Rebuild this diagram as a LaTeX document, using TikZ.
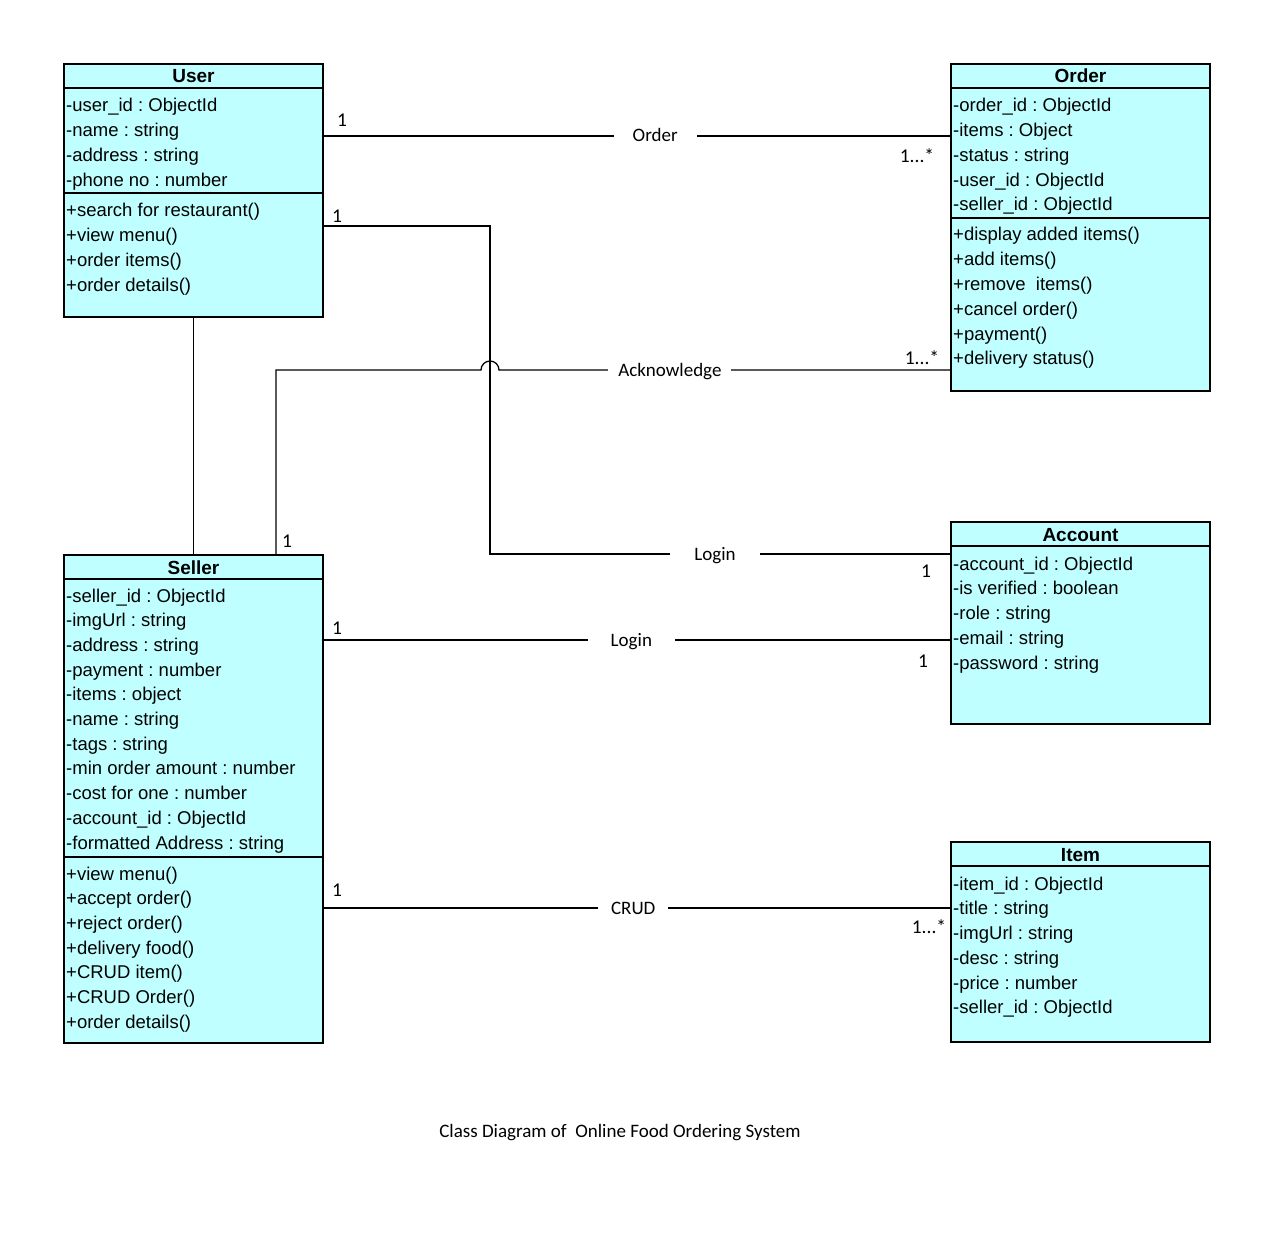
\documentclass[tikz,border=0pt]{standalone}
\usepackage{fontspec}
\setmainfont{Liberation Sans}
\newfontfamily\calibri{Carlito}
\frenchspacing
\usetikzlibrary{calc}
\definecolor{classcyan}{RGB}{192,255,255}
\tikzset{
  classbox/.style={draw, line width=1.3pt, fill=classcyan, minimum width=259pt, anchor=north west, inner sep=0pt, outer sep=0pt},
  classname/.style={anchor=base, font=\bfseries\fontsize{19}{21}\selectfont, inner sep=0pt},
  member/.style={anchor=base west, font=\fontsize{18.5}{20}\selectfont, inner sep=0pt},
  divider/.style={line width=1.3pt},
  link/.style={line width=1.3pt},
  assoc/.style={fill=white, font=\calibri\fontsize{19}{21}\selectfont, text height=12pt, text depth=0pt, inner ysep=2pt},
  mult/.style={font=\calibri\fontsize{19.5}{21}\selectfont, inner sep=0pt}
}

\begin{document}
\begin{tikzpicture}[x=1pt, y=-1pt]
    \fill[white] (0,0) rectangle (1274,1249);
    \useasboundingbox (0,0) rectangle (1274,1249);

    % classes
    \node[classbox, minimum height=253pt] (user) at (64,64) {};
    \node[classbox, minimum height=327pt] (order) at (951,64) {};
    \node[classbox, minimum height=488pt] (seller) at (64,555) {};
    \node[classbox, minimum height=202pt] (account) at (951,522) {};
    \node[classbox, minimum height=200pt] (item) at (951,842) {};

    \node[classname] (usert) at ([yshift=-19pt]user.north) {User};
    \node[classname] (ordert) at ([yshift=-19pt]order.north) {Order};
    \node[classname] (sellert) at ([yshift=-19pt]seller.north) {Seller};
    \node[classname] (accountt) at ([yshift=-19pt]account.north) {Account};
    \node[classname] (itemt) at ([yshift=-19pt]item.north) {Item};

    \draw[divider] ([yshift=-24pt]user.north west) -- ([yshift=-24pt]user.north east);
    \draw[divider] ([yshift=-129pt]user.north west) -- ([yshift=-129pt]user.north east);
    \draw[divider] ([yshift=-24pt]order.north west) -- ([yshift=-24pt]order.north east);
    \draw[divider] ([yshift=-154pt]order.north west) -- ([yshift=-154pt]order.north east);
    \draw[divider] ([yshift=-24pt]seller.north west) -- ([yshift=-24pt]seller.north east);
    \draw[divider] ([yshift=-302pt]seller.north west) -- ([yshift=-302pt]seller.north east);
    \draw[divider] ([yshift=-24pt]account.north west) -- ([yshift=-24pt]account.north east);
    \draw[divider] ([yshift=-24pt]item.north west) -- ([yshift=-24pt]item.north east);

    % members
    \foreach \t [count=\i] in {-user\_id : ObjectId, -name : string, -address : string, -phone no : number}
      \node[member] (usera\i) at ([shift={(2,{48+(\i-1)*24.75})}]user.north west) {\t};
    \foreach \t [count=\i] in {+search for restaurant(), +view menu(), +order items(), +order details()}
      \node[member] (userm\i) at ([shift={(2,{153+(\i-1)*24.75})}]user.north west) {\t};
    \foreach \t [count=\i] in {-order\_id : ObjectId, -items : Object, -status : string, -user\_id : ObjectId, -seller\_id : ObjectId}
      \node[member] (ordera\i) at ([shift={(2,{48+(\i-1)*24.75})}]order.north west) {\t};
    \foreach \t [count=\i] in {+display added items(), +add items(), +remove~ items(), +cancel order(), +payment(), +delivery status()}
      \node[member] (orderm\i) at ([shift={(2,{177+(\i-1)*24.75})}]order.north west) {\t};
    \foreach \t [count=\i] in {-seller\_id : ObjectId, -imgUrl : string, -address : string, -payment : number, -items : object, -name : string, -tags : string, -min order amount : number, -cost for one : number, -account\_id : ObjectId, -formatted Address : string}
      \node[member] (sellera\i) at ([shift={(2,{47+(\i-1)*24.7})}]seller.north west) {\t};
    \foreach \t [count=\i] in {+view menu(), +accept order(), +reject order(), +delivery food(), +CRUD item(), +CRUD Order(), +order details()}
      \node[member] (sellerm\i) at ([shift={(2,{325+(\i-1)*24.7})}]seller.north west) {\t};
    \foreach \t [count=\i] in {-account\_id : ObjectId, -is verified : boolean, -role : string, -email : string, -password : string}
      \node[member] (accounta\i) at ([shift={(2,{48+(\i-1)*24.75})}]account.north west) {\t};
    \foreach \t [count=\i] in {-item\_id : ObjectId, -title : string, -imgUrl : string, -desc : string, -price : number, -seller\_id : ObjectId}
      \node[member] (itema\i) at ([shift={(2,{48+(\i-1)*24.75})}]item.north west) {\t};

    % connector ends
    \coordinate (uo) at ([yshift=-72pt]user.north east);
    \coordinate (ou) at ([yshift=-72pt]order.north west);
    \coordinate (ul) at ([yshift=-162pt]user.north east);
    \coordinate (lv) at ([xshift=167pt]ul);
    \coordinate (al) at ([yshift=-32pt]account.north west);
    \coordinate (sa) at ([xshift=212pt]seller.north west);
    \coordinate (oa) at ([yshift=-306pt]order.north west);
    \coordinate (hop) at (lv |- oa);
    \coordinate (sl) at ([yshift=-85pt]seller.north east);
    \coordinate (asl) at ([yshift=-118pt]account.north west);
    \coordinate (si) at ([yshift=-353pt]seller.north east);
    \coordinate (is) at ([yshift=-66pt]item.north west);

    % associations
    \draw[link] (uo) -- node[assoc, pos=0.529, inner xsep=19pt] (lorder) {Order} (ou);
    \draw[link] (ul) -- (lv) |- node[assoc, pos=0.744, inner xsep=24pt] (llogina) {Login} (al);
    \draw[link] (sa) |- ([xshift=-9pt]hop) arc[start angle=180, end angle=0, radius=9pt]
      -- node[assoc, pos=0.378, inner xsep=10pt] (lack) {Acknowledge} (oa);
    \draw[link] (user.south) -- (seller.north);
    \draw[link] (sl) -- node[assoc, pos=0.491, inner xsep=23pt] (lloginb) {Login} (asl);
    \draw[link] (si) -- node[assoc, pos=0.494, inner xsep=13pt] (lcrud) {CRUD} (is);

    % multiplicities
    \node[mult] (m1) at ([shift={(19,-16)}]uo) {1};
    \node[mult] (m2) at ([shift={(-34,20)}]ou) {1...*};
    \node[mult] (m3) at ([shift={(14,-10)}]ul) {1};
    \node[mult] (m4) at ([shift={(-25,17)}]al) {1};
    \node[mult] (m5) at ([shift={(11,-14)}]sa) {1};
    \node[mult] (m6) at ([shift={(-29,-12)}]oa) {1...*};
    \node[mult] (m7) at ([shift={(14,-12)}]sl) {1};
    \node[mult] (m8) at ([shift={(-28,21)}]asl) {1};
    \node[mult] (m9) at ([shift={(14,-18)}]si) {1};
    \node[mult] (m10) at ([shift={(-22,19)}]is) {1...*};

    \node[font=\calibri\fontsize{19}{21}\selectfont, text height=12pt, text depth=0pt] (caption) at (620,1131) {Class Diagram of~ Online Food Ordering System};
\end{tikzpicture}
\end{document}
